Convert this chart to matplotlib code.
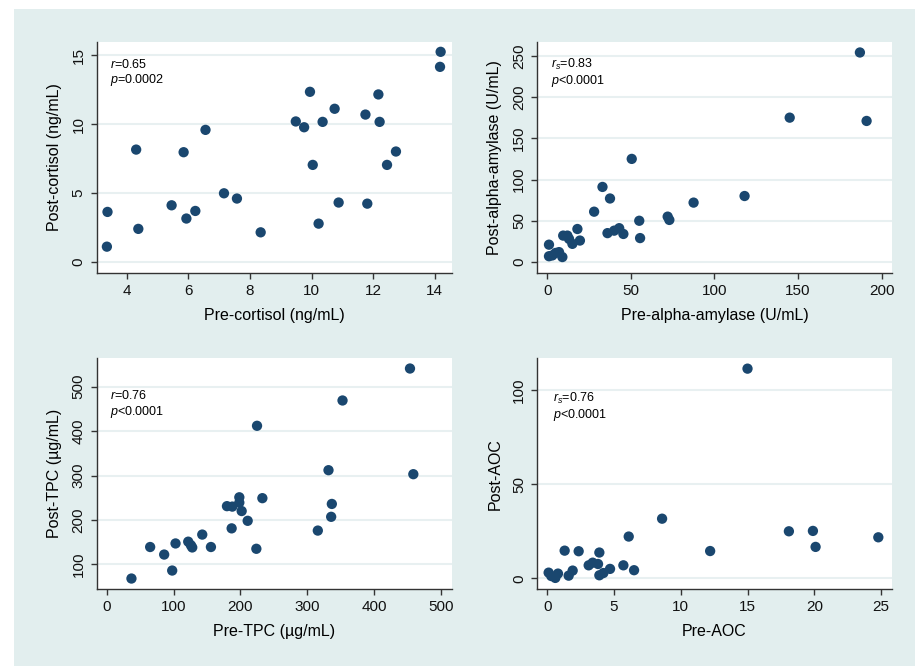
import matplotlib
matplotlib.use("Agg")
import matplotlib.pyplot as plt
from matplotlib.patches import Rectangle

plt.rcParams['font.family'] = ['Liberation Sans', 'DejaVu Sans']
plt.rcParams['mathtext.fontset'] = 'custom'
plt.rcParams['mathtext.rm'] = 'Liberation Sans'
plt.rcParams['mathtext.it'] = 'Liberation Sans:italic'

# Data
cort_pre = [3.38, 3.36, 4.31, 4.38, 5.46, 5.85, 5.94, 6.23, 6.56, 7.16, 7.58, 8.35, 9.49, 9.76,
            9.95, 10.04, 10.23, 10.36, 10.75, 10.88, 11.75, 11.81, 12.17, 12.21, 12.45, 12.74,
            14.19, 14.17]
cort_post = [3.63, 1.11, 8.15, 2.40, 4.11, 7.96, 3.15, 3.70, 9.58, 4.98, 4.60, 2.15, 10.19, 9.77,
             12.34, 7.04, 2.78, 10.16, 11.11, 4.31, 10.69, 4.23, 12.15, 10.16, 7.04, 8.01,
             15.24, 14.15]

amy_pre = [1, 1, 3, 5, 7, 9, 9.5, 12, 13, 15, 18, 19.5, 28, 33, 36, 37.5, 40, 43, 45.5, 50.5,
           55, 55.5, 72, 73, 87.5, 118, 145, 187, 191]
amy_post = [21, 7, 8, 11, 12, 6, 32, 32, 28, 22, 40, 26, 61, 91, 35, 77, 38, 41, 34, 125,
            50, 29, 55, 51, 72, 80, 175, 254, 171]

tpc_pre = [37, 65, 86, 98, 103, 122, 126, 128, 143, 156, 180, 188, 198.5, 198.5, 202, 187,
           211, 225, 224, 233, 316, 332, 336, 337, 353, 454, 459]
tpc_post = [68, 139, 122, 86, 147, 151, 143, 138, 167, 139, 231, 230, 251, 239, 220, 181,
            198, 412, 135, 249, 176, 312, 207, 236, 469, 541, 303]

aoc_pre = [0.1, 0.3, 0.6, 0.8, 1.3, 1.6, 1.9, 2.35, 3.1, 3.4, 3.8, 3.9, 3.9, 4.2, 4.7, 5.7,
           6.1, 6.5, 8.6, 12.2, 15.0, 18.1, 19.9, 20.1, 24.8]
aoc_post = [3, 1.2, 0.2, 2.5, 14.7, 1.4, 4.1, 14.4, 6.9, 8.3, 7.6, 13.7, 1.6, 2.8, 5, 6.9,
            22.2, 4.3, 31.7, 14.5, 111.5, 25, 25.2, 16.7, 21.8]

panels = [
    (cort_pre, cort_post, 'Pre-cortisol (ng/mL)', 'Post-cortisol (ng/mL)',
     [4, 6, 8, 10, 12, 14], [0, 5, 10, 15], (3.03, 14.55), (-0.78, 15.97),
     ['$r$=0.65', '$p$=0.0002'], (0.037, 0.90, 0.835)),
    (amy_pre, amy_post, 'Pre-alpha-amylase (U/mL)', 'Post-alpha-amylase (U/mL)',
     [0, 50, 100, 150, 200], [0, 50, 100, 150, 200, 250], (-6, 206), (-13, 267),
     ['$r_s$=0.83', '$p$<0.0001'], (0.04, 0.902, 0.83)),
    (tpc_pre, tpc_post, 'Pre-TPC (µg/mL)', 'Post-TPC (µg/mL)',
     [0, 100, 200, 300, 400, 500], [100, 200, 300, 400, 500], (-15, 516.5), (44.4, 564),
     ['$r$=0.76', '$p$<0.0001'], (0.037, 0.84, 0.769)),
    (aoc_pre, aoc_post, 'Pre-AOC', 'Post-AOC',
     [0, 5, 10, 15, 20, 25], [0, 50, 100], (-0.75, 25.8), (-5.7, 117),
     ['$r_s$=0.76', '$p$<0.0001'], (0.043, 0.827, 0.754)),
]

positions = [
    [0.1057, 0.5905, 0.388, 0.3468],
    [0.5872, 0.5905, 0.3873, 0.3468],
    [0.1057, 0.1156, 0.388, 0.3464],
    [0.5872, 0.1156, 0.3873, 0.3464],
]

fig = plt.figure(figsize=(9.15, 6.66), dpi=100)
fig.patches.append(Rectangle((14 / 915, 0), 1, 657 / 666, transform=fig.transFigure,
                             facecolor='#e2eeee', edgecolor='none', zorder=-10))

navy = '#1a476f'
for (xs, ys, xl, yl, xt, yt, xlim, ylim, txt, tpos), pos in zip(panels, positions):
    ax = fig.add_axes(pos)
    ax.set_facecolor('white')
    ax.scatter(xs, ys, s=55, color=navy, edgecolors='none', zorder=3)
    ax.set_xlim(*xlim)
    ax.set_ylim(*ylim)
    ax.set_xticks(xt)
    ax.set_yticks(yt)
    ax.grid(axis='y', color='#e8f0f1', linewidth=1.5, zorder=0)
    for side in ['top', 'right']:
        ax.spines[side].set_visible(False)
    for side in ['left', 'bottom']:
        ax.spines[side].set_color('#333333')
        ax.spines[side].set_linewidth(1.0)
    ax.tick_params(length=4, width=1, color='#333333', labelsize=11, labelcolor='#111111', pad=4)
    ax.tick_params(axis='y', labelrotation=90)
    for lab in ax.get_yticklabels():
        lab.set_va('center')
    ax.set_xlabel(xl, fontsize=11.5, labelpad=7)
    ax.set_ylabel(yl, fontsize=11.5, labelpad=7)
    ax.text(tpos[0], tpos[1], txt[0], transform=ax.transAxes, fontsize=9, va='center', ha='left')
    ax.text(tpos[0], tpos[2], txt[1], transform=ax.transAxes, fontsize=9, va='center', ha='left')

fig.savefig('out.png', dpi=100)
